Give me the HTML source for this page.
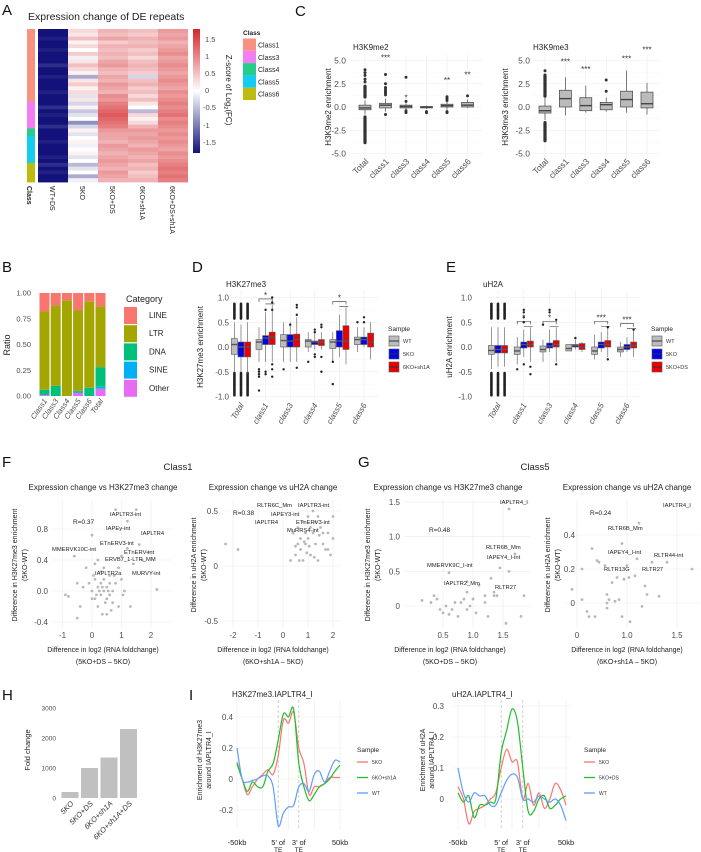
<!DOCTYPE html>
<html><head><meta charset="utf-8">
<style>
html,body{margin:0;padding:0;background:#fff}
svg{display:block;font-family:"Liberation Sans",sans-serif}
.pl{font-size:15px;fill:#111}
.tk{font-size:7.5px;fill:#4d4d4d}
.ttl{font-size:8px;fill:#222}
.al{font-size:8px;fill:#222}
.an{font-size:5.6px;fill:#222}
.lg{font-size:6px;fill:#333}
</style></head><body>
<svg id="fig" width="701" height="852" viewBox="0 0 701 852">
<defs>
<linearGradient id="zgrad" x1="0" y1="0" x2="0" y2="1">
<stop offset="0" stop-color="#d4262a"/><stop offset="0.5" stop-color="#ffffff"/><stop offset="1" stop-color="#12127a"/>
</linearGradient>
</defs>
<rect x="0" y="0" width="701" height="852" fill="#fff"/>

<!-- Panel letters -->
<text class="pl" x="2" y="15">A</text>
<text class="pl" x="295" y="16">C</text>
<text class="pl" x="2" y="272">B</text>
<text class="pl" x="192" y="272">D</text>
<text class="pl" x="446" y="272">E</text>
<text class="pl" x="2" y="467">F</text>
<text class="pl" x="358" y="467">G</text>
<text class="pl" x="2" y="700">H</text>
<text class="pl" x="189" y="700">I</text>

<!-- Panel A static -->
<text x="28" y="20" font-size="10.5" fill="#222">Expression change of DE repeats</text>
<rect x="193" y="29" width="7" height="124" fill="url(#zgrad)"/>
<g class="tk" font-size="7">
<text x="205" y="42">1.5</text><text x="205" y="59">1</text><text x="205" y="76">0.5</text><text x="205" y="93">0</text><text x="203" y="110">-0.5</text><text x="203" y="128">-1</text><text x="203" y="145">-1.5</text>
</g>
<text transform="translate(226,90) rotate(90)" text-anchor="middle" font-size="8" fill="#222">Z-score of Log<tspan font-size="5.5" dy="2">2</tspan><tspan dy="-2">(FC)</tspan></text>
<text x="243" y="35" font-size="6.5" font-weight="bold" fill="#222">Class</text>
<g id="classLegend"></g>
<text transform="translate(27,186) rotate(90)" font-size="7" font-weight="bold" fill="#222">Class</text>

<!-- Panel C static -->
<text class="ttl" x="353" y="50">H3K9me2</text>
<text transform="translate(331,107) rotate(-90)" text-anchor="middle" class="al">H3K9me2 enrichment</text>
<text class="ttl" x="533" y="50">H3K9me3</text>
<text transform="translate(508,107) rotate(-90)" text-anchor="middle" class="al">H3K9me3 enrichment</text>

<!-- Panel B static -->
<text transform="translate(10,345) rotate(-90)" text-anchor="middle" font-size="9" fill="#222">Ratio</text>
<text x="126" y="302" font-size="9" fill="#222">Category</text>
<g id="catLegend"></g>

<!-- Panel D/E static -->
<text class="ttl" x="226" y="287" font-size="7.5">H3K27me3</text>
<text transform="translate(203,347) rotate(-90)" text-anchor="middle" class="al" font-size="7.5">H3K27me3 enrichment</text>
<text class="ttl" x="483" y="287" font-size="7.5">uH2A</text>
<text transform="translate(452,347) rotate(-90)" text-anchor="middle" class="al" font-size="7.5">uH2A enrichment</text>
<g id="legD"></g>
<g id="legE"></g>

<!-- Panel F/G static -->
<text x="178" y="470" text-anchor="middle" font-size="9.5" fill="#222">Class1</text>
<text x="535" y="470" text-anchor="middle" font-size="9.5" fill="#222">Class5</text>
<text class="ttl" x="103" y="490" text-anchor="middle" font-size="7.2">Expression change vs H3K27me3 change</text>
<text class="ttl" x="273" y="490" text-anchor="middle" font-size="7.2">Expression change vs uH2A change</text>
<text class="ttl" x="448" y="490" text-anchor="middle" font-size="7.2">Expression change vs H3K27me3 change</text>
<text class="ttl" x="627" y="490" text-anchor="middle" font-size="7.2">Expression change vs uH2A change</text>
<g font-size="7" fill="#222" text-anchor="middle">
<text transform="translate(17,565) rotate(-90)">Difference in H3K27me3 enrichment</text>
<text transform="translate(27,565) rotate(-90)">(5KO-WT)</text>
<text x="103" y="652">Difference in log2 (RNA foldchange)</text><text x="103" y="664">(5KO+DS – 5KO)</text>
<text transform="translate(196,565) rotate(-90)">Difference in uH2A enrichment</text>
<text transform="translate(206,565) rotate(-90)">(5KO-WT)</text>
<text x="273" y="652">Difference in log2 (RNA foldchange)</text><text x="273" y="664">(6KO+sh1A – 5KO)</text>
<text transform="translate(370,565) rotate(-90)">Difference in H3K27me3 enrichment</text>
<text transform="translate(380,565) rotate(-90)">(5KO-WT)</text>
<text x="450" y="652">Difference in log2 (RNA foldchange)</text><text x="450" y="664">(5KO+DS – 5KO)</text>
<text transform="translate(550,565) rotate(-90)">Difference in uH2A enrichment</text>
<text transform="translate(560,565) rotate(-90)">(5KO-WT)</text>
<text x="627" y="652">Difference in log2 (RNA foldchange)</text><text x="627" y="664">(6KO+sh1A – 5KO)</text>
</g>

<!-- Panel H/I static -->
<text transform="translate(30,750) rotate(-90)" text-anchor="middle" font-size="7.5" fill="#222">Fold change</text>
<text class="ttl" x="232" y="697" font-size="7.2">H3K27me3.IAPLTR4_I</text>
<text class="ttl" x="452" y="697" font-size="7.2">uH2A.IAPLTR4_I</text>
<g font-size="7" fill="#222" text-anchor="middle">
<text transform="translate(202,760) rotate(-90)">Enrichment of H3K27me3</text>
<text transform="translate(211,760) rotate(-90)">around IAPLTR4_I</text>
<text transform="translate(425,760) rotate(-90)">Enrichment of uH2A</text>
<text transform="translate(434,760) rotate(-90)">around IAPLTR4_I</text>
</g>
<g id="legI1"></g>
<g id="legI2"></g>
</svg>

<script>
const NS='http://www.w3.org/2000/svg';
const svg=document.getElementById('fig');
function mk(tag,a,p){const e=document.createElementNS(NS,tag);for(const k in a)e.setAttribute(k,a[k]);(p||svg).appendChild(e);return e;}
function tx(x,y,s,a,p){const e=mk('text',Object.assign({x:x,y:y},a||{}),p);e.textContent=s;return e;}

/* ===================== DATA ===================== */
// Panel A heatmap
const hmColumns=['WT+DS','5KO','5KO+DS','6KO+sh1A','6KO+DS+sh1A'];
const hmRowClass=['Class1','Class1','Class1','Class1','Class1','Class1','Class1','Class1','Class1','Class1','Class1','Class1','Class1','Class1','Class1','Class1','Class1','Class1','Class1','Class3','Class3','Class3','Class3','Class3','Class3','Class3','Class4','Class4','Class5','Class5','Class5','Class5','Class5','Class5','Class5','Class6','Class6','Class6','Class6','Class6'];
const hmWTDS=[-1.7,-1.7,-1.6,-1.7,-1.7,-1.6,-1.7,-1.7,-1.7,-1.5,-1.7,-1.7,-1.6,-1.7,-1.7,-1.7,-1.6,-1.7,-1.7,-1.7,-1.5,-1.7,-1.6,-1.7,-1.7,-1.5,-1.7,-1.7,-1.7,-1.6,-1.7,-1.7,-1.7,-1.6,-1.7,-1.5,-1.7,-1.6,-1.7,-1.7];
const hm5KO=[0.3,0.2,0.5,0.1,0.3,0.0,0.4,-0.1,0.2,0.5,0.3,0.1,-0.6,0.2,0.4,0.1,0.3,-0.2,0.2,-0.3,0.1,-0.4,-0.2,0.0,-0.8,-0.3,0.1,-0.2,0.0,0.1,-0.1,0.0,0.1,-0.2,0.0,-0.5,-0.2,0.0,-0.6,-0.1];
const hm5KODS=[0.6,0.5,0.7,0.4,0.6,0.5,0.6,0.5,0.7,0.8,0.6,0.5,0.7,0.6,0.8,0.7,0.6,0.9,0.8,1.0,1.1,1.2,1.3,1.2,1.1,1.0,0.8,0.7,0.7,0.6,0.8,0.7,0.6,0.7,0.8,0.7,0.6,0.8,0.7,0.6];
const hm6KOsh=[0.5,0.4,0.6,0.5,0.6,0.4,0.5,0.3,0.5,0.6,0.5,0.4,-0.3,0.5,0.6,0.4,0.5,0.3,0.5,0.2,0.0,-0.5,0.3,0.1,0.3,0.6,0.8,0.7,0.8,0.7,0.6,0.8,0.7,0.6,0.7,0.5,0.6,0.4,0.5,0.6];
const hm6KODSsh=[0.8,0.7,0.8,0.6,0.7,0.8,0.9,0.7,0.8,0.9,0.8,0.7,0.8,0.9,0.8,0.7,0.9,0.8,0.9,1.0,0.9,1.0,1.1,0.9,1.0,0.9,0.8,0.9,0.8,0.9,0.8,0.7,0.9,0.8,0.9,1.0,1.1,1.0,1.1,1.0];
const classNames=['Class1','Class3','Class4','Class5','Class6'];
const classColors=['#f8917f','#f37ef3','#24cd8a','#14ccf0','#bcbc10'];

// Panel C
const cCats=['Total','class1','class3','class4','class5','class6'];
const cTicks=[5.0,2.5,0.0,-2.5,-5.0];
const cTickLabels=['5.0','2.5','0.0','-2.5','-5.0'];
const me2Stats=[[-0.8,-0.3,-0.1,0.2,0.7],[-0.5,-0.1,0.2,0.4,0.9],[-0.3,-0.1,0.05,0.2,0.4],[-0.2,-0.1,0,0.05,0.15],[-0.3,0,0.15,0.3,0.6],[-0.1,0,0.2,0.5,0.8]];
const me2Bands=[[[0.9,2.4],[-0.9,-4.0]],[],[],[],[],[]];
const me2Out=[[2.7,3.0,3.4,3.7,4.0],[3.5,2.5,2.1,1.9,1.7,1.5,1.3,-0.8],[3.2,0.6,-0.4,-0.6],[-0.5,-0.6],[1.1,0.9,0.7,-0.5,-0.6],[1.2]];
const me2Stars=['***','***','*','','**','**'];
const me2StarY=[null,5.3,1.0,null,2.9,3.5];
const me3Stats=[[-1.4,-0.65,-0.4,0.1,1.0],[-0.9,0,0.9,1.8,3.2],[-0.6,-0.4,0.15,1.0,2.3],[-0.5,-0.3,0.25,0.5,1.0],[-0.6,0,0.8,1.7,3.9],[-0.8,-0.1,0.35,1.6,2.6]];
const me3Bands=[[[1.0,3.6],[-1.5,-3.8]],[],[],[],[],[]];
const me3Out=[[3.9],[],[],[1.7,2.9],[],[]];
const me3Stars=['','***','***','','***','***'];
const me3StarY=[null,4.9,4.1,null,5.2,6.2];

// Panel B
const bCats=['Class1','Class3','Class4','Class5','Class6','Total'];
const bLayers=['Other','SINE','DNA','LTR','LINE'];
const bOther=[0.01,0,0,0.03,0,0.07];
const bSINE=[0,0,0,0.01,0,0.02];
const bDNA=[0.05,0.10,0,0.01,0.08,0.19];
const bLTR=[0.76,0.78,0.93,0.78,0.84,0.59];
const bLINE=[0.18,0.12,0.07,0.17,0.08,0.13];
const bColors=['#e76bf3','#00b0f6','#00bf7d','#a3a500','#f8766d'];
const bTicks=[1.0,0.75,0.5,0.25,0.0];
const bTickLabels=['1.00','0.75','0.50','0.25','0.00'];

// Panel D / E
const deCats=['Total','class1','class3','class4','class5','class6'];
const deTicks=[1.0,0.5,0.0,-0.5,-1.0];
const deTickLabels=['1.0','0.5','0.0','-0.5','-1.0'];
const dSamples=['WT','5KO','6KO+sh1A'];
const eSamples=['WT','5KO','5KO+DS'];
const sampleColors=['#bdbdbd','#0000ee','#ee0000'];
const dWT=[[-0.5,-0.15,0.05,0.17,0.5],[-0.3,-0.05,0.1,0.15,0.4],[-0.3,0,0.13,0.25,0.5],[-0.1,0,0.12,0.15,0.3],[-0.3,-0.03,0.1,0.15,0.3],[-0.1,0.05,0.15,0.2,0.4]];
const d5KO=[[-0.5,-0.2,0,0.1,0.45],[-0.3,0.05,0.18,0.23,0.7],[-0.3,0,0.12,0.25,0.5],[-0.05,0.05,0.1,0.12,0.3],[-0.2,0,0.12,0.33,0.65],[0,0.05,0.15,0.2,0.4]];
const d6KO=[[-0.55,-0.2,0,0.1,0.5],[-0.3,0.05,0.2,0.3,0.85],[-0.3,0,0.15,0.26,0.6],[-0.05,0.03,0.1,0.15,0.3],[-0.35,-0.05,0.12,0.43,0.8],[-0.25,0,0.1,0.28,0.5]];
const dOutWT=[[],[-0.45,-0.5,-0.55,-0.6,-0.88],[-0.45],[-0.3],[-0.3,-0.75],[0.5]];
const dOut5KO=[[],[0.75,-0.5,-0.55],[0.45],[0.3,0.35,-0.15,-0.2],[],[0.5,0.6]];
const dOut6KO=[[],[1.0,0.9,0.75,-0.35,-0.45,-0.6],[0.85,0.8,0.65,-0.42],[0.45,0.4,-0.2,-0.5],[],[]];
const dBand=[[0.55,0.9],[-0.5,-1.0]];
const dStars=['','*','','','*',''];
const eWT=[[-0.45,-0.15,-0.07,0.03,0.4],[-0.35,-0.15,-0.08,0,0.2],[-0.3,-0.1,-0.05,0.02,0.15],[-0.08,-0.08,-0.03,0.05,0.05],[-0.25,-0.15,-0.08,0,0.25],[-0.2,-0.1,-0.05,0,0.1]];
const e5KO=[[-0.4,-0.12,-0.05,0.03,0.4],[-0.2,-0.02,0.05,0.1,0.35],[-0.1,-0.02,0.02,0.08,0.35],[-0.05,0,0.03,0.05,0.15],[-0.1,-0.02,0.05,0.1,0.3],[-0.1,-0.05,0,0.05,0.2]];
const eDS=[[-0.4,-0.12,-0.05,0.03,0.4],[-0.3,0,0.05,0.12,0.4],[-0.3,0,0.05,0.13,0.4],[-0.1,-0.05,0,0.07,0.1],[-0.2,0,0.05,0.13,0.4],[-0.2,-0.02,0.03,0.1,0.35]];
const eOutWT=[[],[-0.45],[0.45],[],[],[]];
const eOut5KO=[[],[0.75,0.7,0.6,0.5,-0.35],[0.75,0.7],[0.18],[],[]];
const eOutDS=[[],[-0.4,-0.55],[0.55,-0.35],[],[0.4,-0.25],[0.35]];
const eStars=['','*','*','','***','***'];

// Panel F / G scatter
const f1X=[-0.9,-0.8,-0.5,-0.4,-0.3,0.0,0.1,0.2,0.4,0.8,1.2,1.5,1.2,1.9,1.7,1.4,2.2,0.9,1.3,0.5,-0.2,-0.5,0.0,0.1,0.2,0.3,0.3,0.4,0.4,0.5,0.5,0.6,0.6,0.7,0.7,0.8,0.2,0.1,0.0,-0.1,0.3,0.9,1.0,1.1,0.6,0.35,0.45,0.25,0.15,0.55,1.0,1.6,0.05,0.65,0.75,0.35,-0.6,1.05];
const f1Y=[-0.05,-0.07,-0.35,-0.2,0.05,0.72,0.35,0.4,0.3,1.05,0.9,1.05,0.55,0.5,0.4,0.35,0.02,-0.2,-0.2,-0.3,0.3,0.1,0.0,-0.1,0.05,0.1,-0.05,0.15,0.0,0.05,-0.1,0.2,0.1,0.0,-0.15,0.1,-0.2,0.15,-0.1,0.1,0.25,0.3,0.15,0.0,-0.05,0.05,-0.15,0.0,-0.05,0.0,0.45,0.6,0.2,-0.25,0.2,-0.3,0.45,-0.05];
const f2X=[-2.3,-1.8,0.3,0.5,0.6,0.7,0.8,0.9,1.0,1.1,1.2,1.3,1.4,1.5,1.6,1.7,1.8,1.9,2.0,0.4,0.6,0.8,1.0,1.2,1.4,0.9,1.1,0.7,1.3,1.6,1.8,0.5,0.95,1.25,0.65,2.0,0.85,1.05,1.45];
const f2Y=[0.2,0.15,0.05,0.1,0.2,0.15,0.05,0.2,0.25,0.1,0.3,0.2,0.05,0.35,0.2,0.15,0.3,0.1,0.25,0.3,0.35,0.4,0.45,0.5,0.45,0.3,0.35,0.25,0.4,0.3,0.15,0.18,0.12,0.08,0.05,0.45,0.22,0.18,0.28];
const g1X=[0.15,0.3,0.35,0.4,0.45,0.5,0.55,0.6,0.65,0.7,0.75,0.8,0.85,0.9,0.9,0.95,1.0,1.05,1.1,1.2,1.25,1.3,1.35,1.4,1.45,1.55,1.6,1.7,1.8,1.85,0.6,0.9,1.2,1.35,1.6];
const g1Y=[0.08,0.05,0.15,0.1,-0.05,-0.1,0.0,-0.12,-0.05,0.05,-0.15,0.05,0.1,0.2,-0.05,0.0,0.1,-0.1,0.3,0.15,-0.15,0.4,0.2,0.15,0.55,-0.25,0.5,0.75,-0.15,0.15,0.48,0.35,0.05,0.15,1.4];
const g2X=[0.45,0.55,0.55,0.6,0.62,0.65,0.7,0.72,0.78,0.8,0.8,0.8,0.82,0.85,0.88,0.9,0.92,0.95,0.95,0.97,1.0,1.02,1.03,1.08,1.1,1.12,1.15,1.18,1.2,1.25,1.32,1.4,1.65,0.68];
const g2Y=[0.08,0.2,0.02,-0.05,-0.08,0.32,0.25,0.24,0.22,0.05,0.0,-0.03,0.02,0.12,0.01,0.15,0.02,0.35,-0.08,0.14,0.22,0.15,-0.11,0.16,0.26,0.47,-0.02,0.1,0.05,0.24,0.04,0.24,0.2,-0.08];

// Panel H
const hCats=['5KO','5KO+DS','6KO+sh1A','6KO+sh1A+DS'];
const hVals=[200,1000,1350,2300];
const hTicks=[0,1000,2000,3000];

// Panel I
const iKb=[-50,-45,-40,-35,-30,-25,-20,-15,-10,-5,0,5,10,15,20,25,30,35,40,45,50];
const i1Red=[0.11,0.0,-0.1,-0.05,0.0,0.03,0.06,0.03,0.15,0.38,0.36,0.43,0.2,0.1,-0.1,-0.05,-0.05,-0.03,0.01,0.01,0.01];
const i1Green=[0.1,0.0,-0.08,-0.02,-0.05,-0.05,0.05,0.1,0.25,0.42,0.4,0.45,0.1,-0.05,-0.14,-0.1,-0.05,-0.03,0.0,0.05,0.09];
const i1Blue=[0.2,0.0,-0.02,-0.01,0.0,0.02,0.02,-0.05,-0.3,-0.22,-0.18,-0.17,-0.05,-0.03,-0.08,0.03,0.05,-0.02,0.05,0.12,0.11];
const i2Red=[0.04,0.0,-0.08,-0.04,-0.03,-0.02,0.0,0.02,0.1,0.16,0.12,0.12,0.0,0.05,-0.02,0.02,-0.03,0.0,0.05,0.03,-0.02];
const i2Green=[0.02,-0.01,0.01,-0.06,-0.02,-0.02,-0.01,0.0,0.15,0.22,0.29,0.25,0.1,-0.04,-0.04,0.0,0.01,-0.03,-0.02,0.0,0.01];
const i2Blue=[0.1,0.02,-0.01,0.02,0.01,0.01,-0.02,-0.02,0.02,0.06,0.08,0.07,0.0,0.0,-0.01,0.01,0.0,-0.01,0.0,-0.02,-0.07];
const i1Samples=['5KO','6KO+sh1A','WT'];
const i2Samples=['5KO','5KO+DS','WT'];
const lineColors=['#f8766d','#1fbf2a','#619cff'];
const teMarks=[-10,10];

/* ===================== HELPERS ===================== */
function lerp(a,b,t){return Math.round(a+(b-a)*t);}
function zColor(v){let t=Math.max(-1,Math.min(1,v/1.7));
  if(t>=0)return 'rgb('+lerp(255,212,t)+','+lerp(255,38,t)+','+lerp(255,42,t)+')';
  t=-t;return 'rgb('+lerp(255,18,t)+','+lerp(255,18,t)+','+lerp(255,122,t)+')';}
function gridH(ys,x1,x2,col){ys.forEach(y=>{const l=mk('line',{x1:x1,x2:x2,y1:y,y2:y,stroke:col||'#ebebeb','stroke-width':0.6});

});}
function gridV(xs,y1,y2,col){xs.forEach(x=>{const l=mk('line',{x1:x,x2:x,y1:y1,y2:y2,stroke:col||'#ebebeb','stroke-width':0.6});

});}
function boxPlot(cx,w,s,Y,fill,stroke,sw){
  const wl=mk('line',{x1:cx,x2:cx,y1:Y(s[0]),y2:Y(s[4]),stroke:stroke,'stroke-width':sw||0.7});
  
  
  const r=mk('rect',{x:cx-w/2,y:Y(s[3]),width:w,height:Math.max(0.8,Y(s[1])-Y(s[3])),fill:fill,stroke:stroke,'stroke-width':sw||0.7});
  
  
  const m=mk('line',{x1:cx-w/2,x2:cx+w/2,y1:Y(s[2]),y2:Y(s[2]),stroke:stroke,'stroke-width':1.4});
  
  
}
function dot(x,y,r,fill){const c=mk('circle',{cx:x,cy:y,r:r,fill:fill});

return c;}
function band(cx,y1,y2,w,fill){const r=mk('rect',{x:cx-w/2,y:Math.min(y1,y2),width:w,height:Math.abs(y2-y1),rx:w/2,fill:fill});

}
function smoothPath(pts){let d='M'+pts[0][0]+','+pts[0][1];
 for(let i=0;i<pts.length-1;i++){const p0=pts[i-1]||pts[i],p1=pts[i],p2=pts[i+1],p3=pts[i+2]||p2;
  const c1=[p1[0]+(p2[0]-p0[0])/6,p1[1]+(p2[1]-p0[1])/6],c2=[p2[0]-(p3[0]-p1[0])/6,p2[1]-(p3[1]-p1[1])/6];
  d+=' C'+c1[0].toFixed(1)+','+c1[1].toFixed(1)+' '+c2[0].toFixed(1)+','+c2[1].toFixed(1)+' '+p2[0].toFixed(1)+','+p2[1].toFixed(1);}
 return d;}

/* ===================== PANEL A ===================== */
(function(){
 const x0=38,y0=29,cw=30,H=153,rh=H/hmRowClass.length;
 const cols=[hmWTDS,hm5KO,hm5KODS,hm6KOsh,hm6KODSsh];
 cols.forEach((vals,ci)=>{vals.forEach((v,ri)=>{
  const r=mk('rect',{x:x0+ci*cw,y:(y0+ri*rh).toFixed(2),width:cw,height:(rh+0.4).toFixed(2),fill:zColor(v)});
  
  
 });});
 hmRowClass.forEach((c,ri)=>{
  const r=mk('rect',{x:27,y:(y0+ri*rh).toFixed(2),width:8,height:(rh+0.4).toFixed(2),fill:classColors[classNames.indexOf(c)]});
  
  
 });
 hmColumns.forEach((c,ci)=>{
  const t=tx(0,0,c,{transform:'translate('+(x0+ci*cw+cw/2-3)+',186) rotate(90)','font-size':7,fill:'#222'});
  
  
 });
 const g=document.getElementById('classLegend');
 classNames.forEach((c,i)=>{
  const r=mk('rect',{x:243,y:38.5+i*12.3,width:13,height:12.3,fill:classColors[i]},g);
  
  
  const t=tx(258,47.5+i*12.3,c,{'font-size':7,fill:'#222'},g);
  
  
 });
})();

/* ===================== PANEL C ===================== */
function cPanel(x0,xStep,plotL,plotR,stats,bands,outs,stars,starY,tickX){
 const Y=v=>107-v*9.3;
 gridH(cTicks.map(Y),plotL,plotR);
 gridH([3.75,1.25,-1.25,-3.75].map(Y),plotL,plotR,'#f4f4f4');
 gridV(cCats.map((c,i)=>x0+i*xStep),55,158);
 cTicks.forEach((t,i)=>{const e=tx(tickX,Y(t)+3,cTickLabels[i],{'text-anchor':'end','font-size':8.5,fill:'#4d4d4d'});
  
  });
 cCats.forEach((c,i)=>{const cx=x0+i*xStep;
  bands[i].forEach(b=>band(cx,Y(b[0]),Y(b[1]),3.2,'#333'));
  boxPlot(cx,12,stats[i],Y,'#bbbbbb','#444',0.7);
  outs[i].forEach(v=>dot(cx,Y(v),1.5,'#333'));
  if(stars[i]&&starY[i]!==null){const s=tx(cx,Y(starY[i])+3,stars[i],{'text-anchor':'middle','font-size':8,fill:'#333'});
   
   }
  const l=tx(0,0,c,{transform:'translate('+(cx+4)+',162) rotate(-45)','text-anchor':'end','font-size':8.5,fill:'#4d4d4d'});
  
  
 });
}
cPanel(365,20.5,350,482,me2Stats,me2Bands,me2Out,me2Stars,me2StarY,346);
cPanel(545,20.4,533,660,me3Stats,me3Bands,me3Out,me3Stars,me3StarY,530);

/* ===================== PANEL B ===================== */
(function(){
 const Y=v=>396-v*103;
 bTicks.forEach((t,i)=>{const e=tx(31,Y(t)+2.5,bTickLabels[i],{'text-anchor':'end','font-size':7.5,fill:'#4d4d4d'});
  
  });
 const layers=[bOther,bSINE,bDNA,bLTR,bLINE];
 bCats.forEach((c,i)=>{const cx=44.5+i*11.2;let acc=0;
  layers.forEach((arr,li)=>{const v=arr[i];if(v>0){
    const r=mk('rect',{x:cx-5,y:Y(acc+v),width:10,height:Y(acc)-Y(acc+v),fill:bColors[li]});
    
    }
   acc+=v;});
  const l=tx(0,0,c,{transform:'translate('+(cx+3)+',401) rotate(-55)','text-anchor':'end','font-size':7.5,fill:'#4d4d4d','font-style':'italic'});
  
  
 });
 const g=document.getElementById('catLegend');
 const order=[4,3,2,1,0];const names=['LINE','LTR','DNA','SINE','Other'];
 order.forEach((li,k)=>{
  const r=mk('rect',{x:124,y:307+k*18.2,width:13,height:17,fill:bColors[li]},g);
  
  
  const t=tx(149,318+k*18.2,names[k],{'font-size':8,fill:'#222'},g);
  
  
 });
})();

/* ===================== PANEL D / E ===================== */
function dePanel(x0,step,plotL,plotR,tickX,series,outs,stars,legId,samples,legX){
 const Y=v=>347-v*49.5;
 gridH(deTicks.map(Y),plotL,plotR);
 gridH([0.75,0.25,-0.25,-0.75].map(Y),plotL,plotR,'#f4f4f4');
 gridV(deCats.map((c,i)=>x0+i*step),290,400);
 deTicks.forEach((t,i)=>{const e=tx(tickX,Y(t)+3,deTickLabels[i],{'text-anchor':'end','font-size':8,fill:'#4d4d4d'});
  
  });
 deCats.forEach((c,i)=>{const gx=x0+i*step;
  series.forEach((s,si)=>{const cx=gx+(si-1)*6.6;
   if(i===0){dBand.forEach(b=>band(cx,Y(b[0]),Y(b[1]),2.6,'#222'));}
   boxPlot(cx,6,s[i],Y,sampleColors[si],'#555',0.6);
   outs[si][i].forEach(v=>dot(cx,Y(v),1.2,'#222'));
  });
  if(stars[i]){const top=Math.max(...series.map(s=>s[i][4]))+0.12;const yb=Y(top);
   const p=mk('path',{d:'M'+(gx-6.6)+','+(yb+3)+' V'+yb+' H'+(gx+6.6)+' V'+(yb+3)+' M'+gx+','+(yb+5)+' H'+(gx+9),fill:'none',stroke:'#333','stroke-width':0.6});
   
   
   const s=tx(gx,yb-1,stars[i],{'text-anchor':'middle','font-size':8,fill:'#333'});
   
   }
  const l=tx(0,0,c,{transform:'translate('+(gx+3)+',405) rotate(-60)','text-anchor':'end','font-size':8,fill:'#4d4d4d','font-style':'italic'});
  
  
 });
 const g=document.getElementById(legId);
 const h=tx(legX,331,'Sample',{'font-size':6.5,fill:'#222'},g);
 
 
 samples.forEach((s,k)=>{const yy=336+k*13;
  const r=mk('rect',{x:legX+1,y:yy,width:10,height:10,fill:sampleColors[k],stroke:'#555','stroke-width':0.6},g);
  
  
  const ln=mk('line',{x1:legX+1,x2:legX+11,y1:yy+5,y2:yy+5,stroke:'#333','stroke-width':1},g);
  
  
  const t=tx(legX+15,yy+7,s,{'font-size':5.5,fill:'#333'},g);
  
  
 });
}
dePanel(241,24.6,230,378,229,[dWT,d5KO,d6KO],[dOutWT,dOut5KO,dOut6KO],dStars,'legD',dSamples,388);
dePanel(498,25.8,487,640,472,[eWT,e5KO,eDS],[eOutWT,eOut5KO,eOutDS],eStars,'legE',eSamples,651);

/* ===================== PANEL F / G ===================== */
function scatter(X,Y,xs,ys,xTicks,xLabels,yTicks,yLabels,L,R,T,B,tickX,notes){
 gridV(xTicks.map(X),T,B);gridH(yTicks.map(Y),L,R);
 yTicks.forEach((t,i)=>{const e=tx(tickX,Y(t)+3,yLabels[i],{'text-anchor':'end','font-size':8,fill:'#4d4d4d'});
  
  });
 xTicks.forEach((t,i)=>{const e=tx(X(t),638,xLabels[i],{'text-anchor':'middle','font-size':8,fill:'#4d4d4d'});
  
  });
 xs.forEach((v,i)=>{const c=mk('circle',{cx:X(v),cy:Y(ys[i]),r:1.4,fill:'#b8b8b8'});
  
  });
 notes.forEach(n=>{const t=tx(n[0],n[1],n[2],{'font-size':n[3]||5.8,fill:'#222'});
  
  });
}
scatter(v=>92+v*29.5,v=>591-v*77.5,f1X,f1Y,[-1,0,1,2],['-1','0','1','2'],[0.8,0.4,0.0,-0.4],['0.8','0.4','0.0','-0.4'],52,172,500,628,48,
 [[73,524,'R=0.37',6.5],[110,516,'IAPLTR3-int'],[106,530,'IAPEy-int'],[141,535,'IAPLTR4'],[100,545,'ETnERV3-int'],[52,551,'MMERVK10C-int'],[124,554,'ETnERV-int'],[105,561,'ERVB7_1-LTR_MM'],[95,575,'IAPLTR2a'],[132,575,'MURVY-int']]);
scatter(v=>283+v*25,v=>566-v*110,f2X,f2Y,[-2,-1,0,1,2],['-2','-1','0','1','2'],[0.5,0,-0.5],['0.5','0','-0.5'],222,342,500,628,218,
 [[233,515,'R=0.38',6.5],[257,507,'RLTR6C_Mm'],[298,507,'IAPLTR3-int'],[271,516,'IAPEY3-int'],[255,524,'IAPLTR4'],[296,524,'ETnERV3-int'],[287,532,'MuRRS4-int']]);
scatter(v=>443+(v-0.5)*60,v=>606-v*69.3,g1X,g1Y,[0.5,1.0,1.5],['0.5','1.0','1.5'],[1.5,1.0,0.5,0],['1.5','1.0','0.5','0'],404,530,500,628,400,
 [[500,504,'IAPLTR4_I'],[429,532,'R=0.48',6.5],[486,549,'RLTR6B_Mm'],[487,559,'IAPEY4_I-int'],[427,567,'MMERVK9C_I-int'],[444,585,'IAPLTR2_Mm'],[495,589,'RLTR27']]);
scatter(v=>577+(v-0.5)*100,v=>603-v*170,g2X,g2Y,[0.5,1.0,1.5],['0','1.0','1.5'],[0.4,0.2,0],['0.4','0.2','0'],565,700,500,628,575,
 [[663,507,'IAPLTR4_I'],[590,515,'R=0.24',6.5],[608,530,'RLTR6B_Mm'],[608,554,'IAPEY4_I-int'],[654,557,'RLTR44-int'],[604,571,'RLTR13G'],[642,571,'RLTR27']]);

/* ===================== PANEL H ===================== */
(function(){
 const Y=v=>798-v*0.03;
 hTicks.forEach(t=>{const e=tx(56,Y(t)+2.5,String(t),{'text-anchor':'end','font-size':6.5,fill:'#4d4d4d'});
  
  });
 hCats.forEach((c,i)=>{const cx=70+i*19.5;
  const r=mk('rect',{x:cx-8.5,y:Y(hVals[i]),width:17,height:Y(0)-Y(hVals[i]),fill:'#c0c0c0'});
  
  
  const l=tx(0,0,c,{transform:'translate('+(cx+4)+',804) rotate(-45)','text-anchor':'end','font-size':7.5,fill:'#333','font-style':'italic'});
  
  
 });
})();

/* ===================== PANEL I ===================== */
function profile(X,Y,yTicks,yLabels,L,R,T,B,tickX,series,samples,legX,legId){
 gridH(yTicks.map(Y),L,R);gridV([-50,-25,0,25,50].map(X),T,B);
 teMarks.forEach(k=>{const l=mk('line',{x1:X(k),x2:X(k),y1:T,y2:B,stroke:'#bbb','stroke-width':0.7,'stroke-dasharray':'3,2'});
  
  });
 yTicks.forEach((t,i)=>{const e=tx(tickX,Y(t)+3,yLabels[i],{'text-anchor':'end','font-size':8,fill:'#4d4d4d'});
  
  });
 [[-50,'-50kb'],[50,'50kb']].forEach(p=>{const e=tx(X(p[0]),845,p[1],{'text-anchor':'middle','font-size':7.5,fill:'#222'});
  
  });
 [[teMarks[0],"5’ of"],[teMarks[1],"3’ of"]].forEach(p=>{const e=tx(X(p[0]),845,p[1],{'text-anchor':'middle','font-size':7.5,fill:'#222'});
  
  
  const e2=tx(X(p[0]),852,'TE',{'text-anchor':'middle','font-size':6.5,fill:'#222'});
  
  });
 series.forEach((s,si)=>{const pts=iKb.map((k,j)=>[X(k),Y(s[j])]);
  const p=mk('path',{d:smoothPath(pts),fill:'none',stroke:lineColors[si],'stroke-width':1.2});
  
  });
 const g=document.getElementById(legId);
 const h=tx(legX,752,'Sample',{'font-size':6.5,fill:'#222'},g);
 
 
 samples.forEach((s,k)=>{const yy=762+k*15.5;
  const l=mk('line',{x1:legX,x2:legX+11,y1:yy,y2:yy,stroke:lineColors[k],'stroke-width':1.3},g);
  
  
  const t=tx(legX+15,yy+2,s,{'font-size':5,fill:'#333'},g);
  
  });
}
profile(k=>237+(k+50)*1.03,v=>779-v*155,[0.4,0.2,0,-0.2],['0.4','0.2','0','-0.2'],233,345,700,830,233,[i1Red,i1Green,i1Blue],i1Samples,357,'legI1');
profile(k=>458+(k+50)*1.08,v=>799-v*310,[0.3,0.2,0.1,0],['0.3','0.2','0.1','0'],452,570,700,830,444,[i2Red,i2Green,i2Blue],i2Samples,584,'legI2');
</script>
</body></html>
